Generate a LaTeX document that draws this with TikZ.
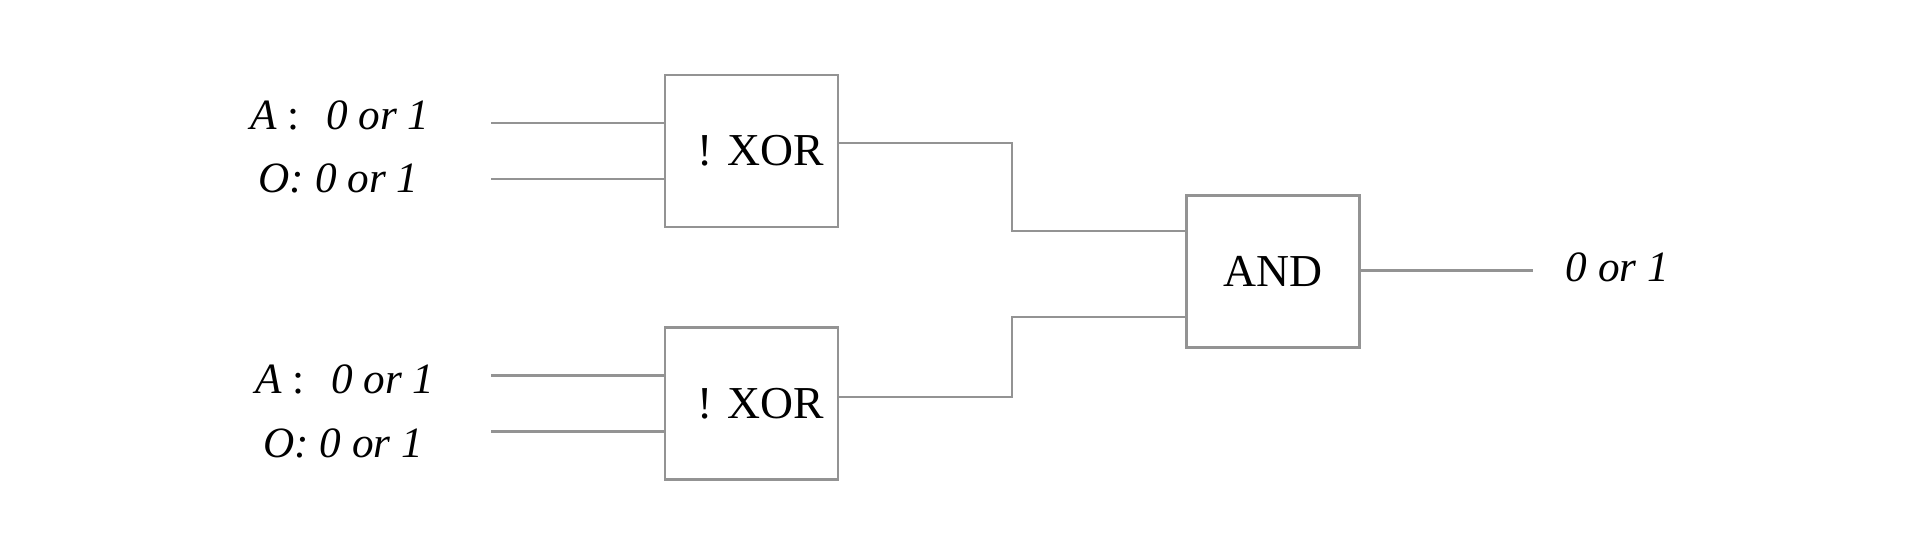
\documentclass[tikz,border=0pt]{standalone}
\usepackage{fontspec}
\setmainfont{Liberation Serif}

\begin{document}
\begin{tikzpicture}[
    wire/.style={draw=gray!85, line width=0.6pt},
    gate/.style={draw=gray!85, line width=0.6pt, minimum width=1.73cm, minimum height=1.52cm, inner sep=0pt, font=\fontsize{13}{15}\selectfont},
    lbl/.style={anchor=base west, inner sep=0pt, font=\fontsize{12.3}{14}\selectfont}
]
                \useasboundingbox (0,0) rectangle (19.2,-5.55);
                \node[gate, label={[font=\fontsize{13}{15}\selectfont, xshift=0.09cm]center:! XOR}] (xor1) at (7.515,-1.51) {};
                \node[gate, label={[font=\fontsize{13}{15}\selectfont, xshift=0.09cm]center:! XOR}] (xor2) at (7.515,-4.035) {};
                \node[gate] (and) at (12.73,-2.715) {AND};
                \node[lbl] (a1) at (2.50,-1.30) {\textit{A}\hspace{3pt}:\hspace{7.5pt}\textit{0 or 1}};
                \node[lbl] (o1) at (2.58,-1.927) {\textit{O: 0 or 1}};
                \node[lbl] (a2) at (2.55,-3.94) {\textit{A}\hspace{3pt}:\hspace{7.5pt}\textit{0 or 1}};
                \node[lbl] (o2) at (2.627,-4.573) {\textit{O: 0 or 1}};
                \node[lbl] (res) at (15.65,-2.82) {\textit{0 or 1}};
                \coordinate (in1) at (4.91,-1.23);
                \coordinate (in2) at (4.91,-1.79);
                \coordinate (in3) at (4.91,-3.755);
                \coordinate (in4) at (4.91,-4.315);
                \coordinate (out) at (15.33,-2.705);
                \draw[wire] (in1) -- (in1 -| xor1.west);
                \draw[wire] (in2) -- (in2 -| xor1.west);
                \draw[wire] (in3) -- (in3 -| xor2.west);
                \draw[wire] (in4) -- (in4 -| xor2.west);
                \draw[wire] ([yshift=0.077cm]xor1.east) -- ++(1.73,0) |- ([yshift=0.405cm]and.west);
                \draw[wire] ([yshift=0.068cm]xor2.east) -- ++(1.73,0) |- ([yshift=-0.455cm]and.west);
                \draw[wire] ([yshift=0.01cm]and.east) -- (out);
            \end{tikzpicture}
\end{document}
